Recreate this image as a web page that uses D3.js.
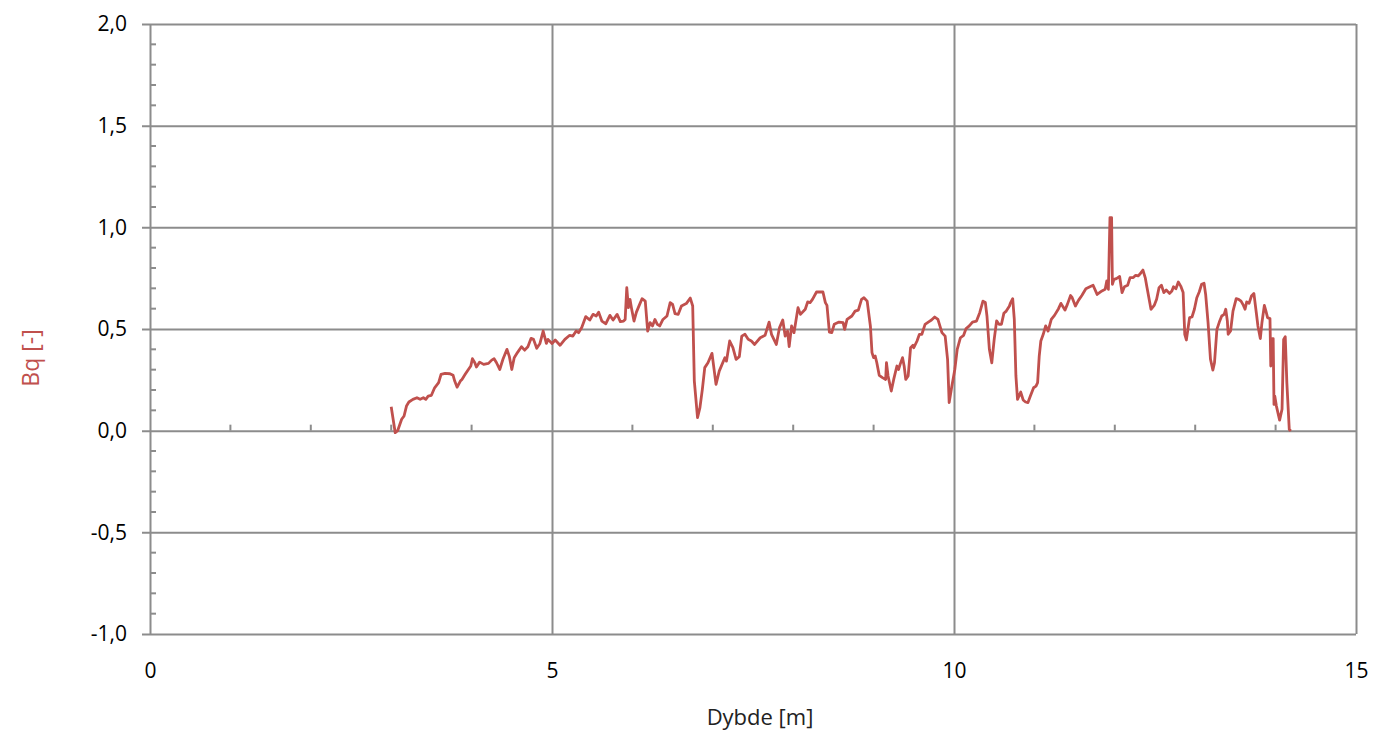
<!DOCTYPE html>
<html>
<head>
<meta charset="utf-8">
<script src="https://cdn.jsdelivr.net/npm/d3@7"></script>
<style>
  body { margin: 0; background: #fff; }
  text { font-family: "Open Sans", "Noto Sans", sans-serif; }
</style>
</head>
<body>
<div id="chart"></div>
<script>
// depth [m] and Bq [-]
const depth = [
  3.00, 3.05, 3.08, 3.13, 3.16, 3.19, 3.22, 3.27, 3.32, 3.36, 3.40, 3.43, 3.46, 3.50, 3.54, 3.59, 3.62, 3.67, 3.73, 3.77,
  3.79, 3.82, 3.86, 3.88, 3.92, 3.96, 3.99, 4.01, 4.04, 4.06, 4.10, 4.15, 4.21, 4.25, 4.28, 4.31, 4.35, 4.39, 4.44, 4.47,
  4.50, 4.53, 4.57, 4.62, 4.66, 4.70, 4.74, 4.77, 4.81, 4.85, 4.89, 4.93, 4.95, 5.00, 5.04, 5.10, 5.16, 5.22, 5.26, 5.30,
  5.33, 5.37, 5.42, 5.47, 5.51, 5.55, 5.58, 5.62, 5.67, 5.72, 5.76, 5.81, 5.85, 5.89, 5.91, 5.93, 5.95, 5.97, 5.99, 6.02,
  6.05, 6.09, 6.12, 6.16, 6.19, 6.22, 6.25, 6.28, 6.31, 6.34, 6.38, 6.43, 6.47, 6.50, 6.53, 6.57, 6.61, 6.67, 6.72, 6.75,
  6.77, 6.81, 6.84, 6.87, 6.90, 6.94, 6.99, 7.04, 7.08, 7.11, 7.15, 7.17, 7.21, 7.25, 7.29, 7.33, 7.36, 7.40, 7.44, 7.48,
  7.52, 7.59, 7.65, 7.70, 7.73, 7.79, 7.83, 7.87, 7.90, 7.93, 7.95, 7.98, 8.01, 8.06, 8.09, 8.15, 8.18, 8.21, 8.24, 8.29,
  8.37, 8.40, 8.42, 8.45, 8.48, 8.51, 8.57, 8.62, 8.64, 8.67, 8.73, 8.77, 8.81, 8.85, 8.88, 8.92, 8.96, 8.98, 9.00, 9.02,
  9.04, 9.07, 9.11, 9.15, 9.16, 9.18, 9.22, 9.25, 9.29, 9.31, 9.33, 9.36, 9.38, 9.40, 9.43, 9.46, 9.49, 9.50, 9.54, 9.57,
  9.60, 9.64, 9.68, 9.72, 9.76, 9.80, 9.85, 9.89, 9.92, 9.94, 9.97, 10.01, 10.04, 10.08, 10.12, 10.15, 10.19, 10.23, 10.28, 10.32,
  10.36, 10.39, 10.41, 10.44, 10.47, 10.50, 10.53, 10.56, 10.59, 10.62, 10.65, 10.69, 10.70, 10.73, 10.75, 10.77, 10.79, 10.83, 10.86, 10.89,
  10.92, 10.95, 10.99, 11.02, 11.04, 11.06, 11.08, 11.11, 11.14, 11.17, 11.21, 11.25, 11.30, 11.33, 11.38, 11.41, 11.45, 11.47, 11.51, 11.55,
  11.59, 11.64, 11.69, 11.73, 11.78, 11.84, 11.88, 11.90, 11.92, 11.94, 11.96, 11.97, 11.99, 12.02, 12.06, 12.09, 12.12, 12.16, 12.19, 12.23,
  12.26, 12.29, 12.31, 12.35, 12.38, 12.40, 12.45, 12.49, 12.52, 12.55, 12.58, 12.61, 12.64, 12.68, 12.71, 12.73, 12.76, 12.79, 12.82, 12.85,
  12.87, 12.89, 12.93, 12.96, 12.99, 13.02, 13.05, 13.08, 13.11, 13.13, 13.16, 13.19, 13.22, 13.24, 13.27, 13.30, 13.33, 13.36, 13.38, 13.40,
  13.41, 13.44, 13.47, 13.51, 13.54, 13.57, 13.60, 13.62, 13.64, 13.67, 13.70, 13.73, 13.76, 13.78, 13.81, 13.83, 13.86, 13.88, 13.90, 13.93,
  13.94, 13.96, 13.97, 13.98, 13.99, 14.01, 14.05, 14.08, 14.10, 14.12, 14.14, 14.17, 14.19
];
const bq = [
  0.118, -0.010, 0.000, 0.056, 0.072, 0.121, 0.141, 0.154, 0.162, 0.154, 0.162, 0.154, 0.170, 0.174, 0.211, 0.236, 0.277, 0.282, 0.280, 0.272,
  0.244, 0.214, 0.244, 0.252, 0.277, 0.301, 0.318, 0.354, 0.334, 0.313, 0.337, 0.326, 0.331, 0.347, 0.354, 0.334, 0.301, 0.351, 0.400, 0.364,
  0.301, 0.359, 0.384, 0.413, 0.396, 0.413, 0.454, 0.449, 0.405, 0.429, 0.490, 0.429, 0.449, 0.429, 0.446, 0.420, 0.449, 0.469, 0.465, 0.490,
  0.482, 0.507, 0.561, 0.544, 0.572, 0.564, 0.583, 0.539, 0.526, 0.567, 0.544, 0.572, 0.536, 0.539, 0.547, 0.703, 0.605, 0.646, 0.600, 0.539,
  0.583, 0.621, 0.649, 0.637, 0.490, 0.531, 0.515, 0.547, 0.523, 0.515, 0.547, 0.564, 0.630, 0.621, 0.576, 0.572, 0.613, 0.625, 0.652, 0.613,
  0.245, 0.064, 0.113, 0.203, 0.310, 0.334, 0.380, 0.228, 0.293, 0.321, 0.359, 0.342, 0.441, 0.408, 0.351, 0.364, 0.465, 0.474, 0.449, 0.441,
  0.424, 0.457, 0.469, 0.534, 0.474, 0.424, 0.507, 0.544, 0.465, 0.490, 0.413, 0.515, 0.482, 0.605, 0.572, 0.597, 0.633, 0.630, 0.646, 0.682,
  0.682, 0.630, 0.616, 0.485, 0.482, 0.523, 0.534, 0.531, 0.498, 0.547, 0.564, 0.588, 0.593, 0.646, 0.654, 0.637, 0.515, 0.384, 0.359, 0.367,
  0.334, 0.272, 0.261, 0.252, 0.334, 0.269, 0.195, 0.252, 0.318, 0.301, 0.326, 0.359, 0.318, 0.252, 0.269, 0.408, 0.420, 0.408, 0.441, 0.474,
  0.474, 0.523, 0.534, 0.544, 0.559, 0.547, 0.482, 0.465, 0.351, 0.138, 0.211, 0.301, 0.400, 0.457, 0.469, 0.502, 0.515, 0.534, 0.539, 0.580,
  0.637, 0.630, 0.564, 0.400, 0.334, 0.449, 0.540, 0.523, 0.523, 0.577, 0.588, 0.613, 0.626, 0.649, 0.547, 0.269, 0.154, 0.190, 0.151, 0.141,
  0.138, 0.170, 0.211, 0.219, 0.236, 0.367, 0.441, 0.474, 0.515, 0.490, 0.547, 0.567, 0.600, 0.626, 0.593, 0.621, 0.665, 0.654, 0.613, 0.642,
  0.665, 0.698, 0.708, 0.715, 0.670, 0.687, 0.695, 0.736, 0.695, 1.048, 1.048, 0.720, 0.744, 0.748, 0.758, 0.679, 0.708, 0.715, 0.753, 0.753,
  0.764, 0.761, 0.769, 0.790, 0.750, 0.705, 0.597, 0.616, 0.646, 0.703, 0.715, 0.679, 0.692, 0.675, 0.687, 0.708, 0.698, 0.731, 0.711, 0.679,
  0.474, 0.446, 0.556, 0.559, 0.597, 0.654, 0.682, 0.720, 0.725, 0.670, 0.531, 0.351, 0.298, 0.334, 0.498, 0.534, 0.564, 0.572, 0.597, 0.539,
  0.474, 0.490, 0.588, 0.649, 0.646, 0.637, 0.616, 0.597, 0.633, 0.626, 0.662, 0.675, 0.580, 0.515, 0.453, 0.531, 0.616, 0.588, 0.556, 0.551,
  0.318, 0.453, 0.453, 0.129, 0.170, 0.121, 0.052, 0.105, 0.449, 0.462, 0.236, 0.006, -0.002
];

const xTicks = [0, 5, 10, 15];
const yTicks = [-1.0, -0.5, 0, 0.5, 1.0, 1.5, 2.0];

const width = 1373, height = 730;
const margin = {top: 24, right: 17, bottom: 96, left: 150};
const gridColor = "#8c8c8c";
const lineColor = "#c0504d";

const svg = d3.select("#chart")
  .append("svg")
  .attr("width", width)
  .attr("height", height);

let xScale = d3.scaleLinear()
  .domain([0, 15])
  .range([margin.left, width - margin.right]);

let yScale = d3.scaleLinear()
  .domain([-1, 2])
  .range([height - margin.bottom, margin.top]);

// Norwegian style: comma decimals, plain hyphen for minus
const fmt = d => d.toFixed(1).replace(".", ",");

// horizontal gridlines + y labels (axis shifted 8px left so ticks stick out)
svg.append("g")
  .attr("transform", `translate(${margin.left - 8},0)`)
  .call(d3.axisLeft(yScale)
    .tickValues(yTicks)
    .tickSize(-(width - margin.right - margin.left + 8))
    .tickPadding(15)
    .tickFormat(fmt))
  .call(g => g.select(".domain").remove())
  .call(g => g.selectAll("line").attr("stroke", gridColor).attr("stroke-width", 2))
  .call(g => g.selectAll("text").attr("font-size", "21px").attr("fill", "#000").attr("font-family", "'Open Sans', sans-serif"));

// vertical gridlines + x labels
svg.append("g")
  .attr("transform", `translate(0,${height - margin.bottom})`)
  .call(d3.axisBottom(xScale)
    .tickValues(xTicks)
    .tickSize(-(height - margin.bottom - margin.top))
    .tickPadding(29)
    .tickFormat(d3.format("d")))
  .call(g => g.select(".domain").remove())
  .call(g => g.selectAll("line").attr("stroke", gridColor).attr("stroke-width", 2))
  .call(g => g.selectAll("text").attr("font-size", "21px").attr("fill", "#000").attr("font-family", "'Open Sans', sans-serif"));

// minor ticks on y axis, inside the plot
const yMinor = d3.range(-10, 21).map(i => i / 10).filter(v => Math.abs(v * 2 - Math.round(v * 2)) > 1e-6);
svg.append("g")
  .selectAll("line")
  .data(yMinor)
  .enter()
  .append("line")
    .attr("x1", margin.left)
    .attr("x2", margin.left + 6)
    .attr("y1", d => yScale(d))
    .attr("y2", d => yScale(d))
    .attr("stroke", gridColor)
    .attr("stroke-width", 2);

// minor ticks on the zero line
const xMinor = d3.range(1, 15).filter(v => v % 5 !== 0);
svg.append("g")
  .selectAll("line")
  .data(xMinor)
  .enter()
  .append("line")
    .attr("x1", d => xScale(d))
    .attr("x2", d => xScale(d))
    .attr("y1", yScale(0) - 6)
    .attr("y2", yScale(0))
    .attr("stroke", gridColor)
    .attr("stroke-width", 2);

// Bq line
const points = depth.map((d, i) => [d, bq[i]]);
const line = d3.line()
  .x(d => xScale(d[0]))
  .y(d => yScale(d[1]));

svg.append("path")
  .datum(points)
  .attr("d", line)
  .attr("fill", "none")
  .attr("stroke", lineColor)
  .attr("stroke-width", 2.8)
  .attr("stroke-linejoin", "round");

// axis titles
svg.append("text")
  .attr("x", (margin.left + width - margin.right) / 2 + 7)
  .attr("y", 725)
  .attr("text-anchor", "middle")
  .attr("font-size", "22px")
  .attr("fill", "#222")
  .text("Dybde [m]");

svg.append("text")
  .attr("transform", `translate(39,358) rotate(-90)`)
  .attr("text-anchor", "middle")
  .attr("font-size", "23px")
  .attr("fill", lineColor)
  .text("Bq [-]");
</script>
</body>
</html>
